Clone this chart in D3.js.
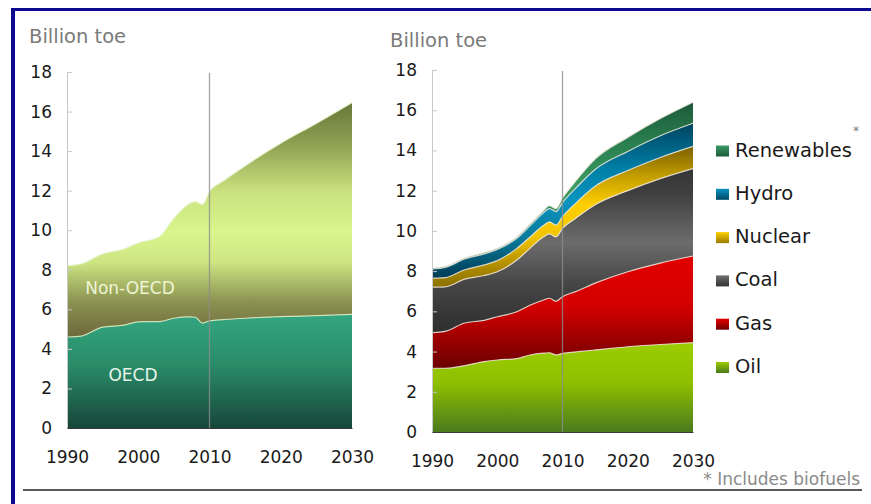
<!DOCTYPE html>
<html>
<head>
<meta charset="utf-8">
<script src="https://cdn.jsdelivr.net/npm/d3@7"></script>
<style>
  body { margin: 0; background: #fff; }
  svg { display: block; font-family: "DejaVu Sans", sans-serif; }
</style>
</head>
<body>
<svg id="chart" width="871" height="504"></svg>
<script>
// data (billion toe)
var years = [1990, 1992, 1995, 1998, 2000, 2003, 2005, 2007, 2008, 2009, 2010, 2012, 2015, 2020, 2025, 2030];

var oecd    = [4.6, 4.65, 5.1, 5.2, 5.37, 5.38, 5.55, 5.62, 5.6, 5.3, 5.42, 5.48, 5.55, 5.63, 5.68, 5.75];
var nonOecd = [3.6, 3.65, 3.7, 3.85, 3.98, 4.3, 5.05, 5.68, 5.85, 6.0, 6.53, 7.02, 7.7, 8.77, 9.72, 10.7];

var oil        = [3.17, 3.17, 3.3, 3.5, 3.58, 3.65, 3.83, 3.92, 3.94, 3.83, 3.91, 3.98, 4.08, 4.24, 4.35, 4.44];
var gas        = [1.77, 1.83, 2.12, 2.05, 2.15, 2.33, 2.47, 2.63, 2.71, 2.67, 2.82, 3.0, 3.32, 3.73, 4.05, 4.31];
var coal       = [2.26, 2.22, 2.18, 2.23, 2.24, 2.57, 2.83, 3.13, 3.2, 3.2, 3.4, 3.64, 3.9, 4.03, 4.2, 4.35];
var nuclear    = [0.45, 0.46, 0.47, 0.53, 0.55, 0.58, 0.56, 0.57, 0.6, 0.59, 0.58, 0.75, 0.92, 1.0, 1.05, 1.1];
var hydro      = [0.45, 0.5, 0.53, 0.55, 0.56, 0.5, 0.56, 0.63, 0.66, 0.67, 0.7, 0.74, 0.83, 0.95, 1.08, 1.15];
var renewables = [0.05, 0.05, 0.05, 0.06, 0.06, 0.07, 0.08, 0.1, 0.14, 0.15, 0.22, 0.36, 0.52, 0.7, 0.86, 1.05];

var yTicks = [0, 2, 4, 6, 8, 10, 12, 14, 16, 18];
var xTicks = [1990, 2000, 2010, 2020, 2030];
var fuelNames = ["Oil", "Gas", "Coal", "Nuclear", "Hydro", "Renewables"];
var regionNames = ["OECD", "Non-OECD"];

var svg = d3.select("#chart");
var defs = svg.append("defs");

// vertical gradients, one per layer
function gradient(id, stops) {
    var g = defs.append("linearGradient")
        .attr("id", id)
        .attr("x1", 0).attr("y1", 0).attr("x2", 0).attr("y2", 1);
    stops.forEach(function(s) {
        g.append("stop").attr("offset", s[0]).attr("stop-color", s[1]);
    });
}

gradient("g-OECD", [[0, "#33a680"], [0.45, "#2a8b68"], [1, "#17463a"]]);
gradient("g-Non-OECD", [[0, "#67773a"], [0.18, "#8fa152"], [0.38, "#c9e27f"], [0.55, "#d9f58c"], [0.68, "#cde683"], [0.85, "#8b9251"], [1, "#6c683c"]]);
gradient("g-Oil", [[0, "#9ccc00"], [0.45, "#8fc000"], [1, "#4a7a1c"]]);
gradient("g-Gas", [[0, "#e20000"], [0.45, "#d30000"], [0.75, "#9a0000"], [1, "#6a0000"]]);
gradient("g-Coal", [[0, "#353535"], [0.15, "#3f3f3f"], [0.45, "#6c6c6c"], [0.7, "#464646"], [1, "#2e2e2e"]]);
gradient("g-Nuclear", [[0, "#7a6000"], [0.2, "#c09a00"], [0.42, "#ffd000"], [0.65, "#f0c400"], [0.85, "#b08c00"], [1, "#8a7000"]]);
gradient("g-Hydro", [[0, "#004560"], [0.3, "#0080a8"], [0.5, "#0a94c0"], [0.75, "#0a7a9a"], [1, "#003a55"]]);
gradient("g-Renewables", [[0, "#1d5a3a"], [0.25, "#2a8050"], [0.5, "#3a9a60"], [1, "#2a7a55"]]);

// legend squares
var legendStops = {
    "Renewables": ["#3a9a66", "#1d5a3a"],
    "Hydro": ["#0a94c0", "#004a66"],
    "Nuclear": ["#ffd000", "#9a7a00"],
    "Coal": ["#707070", "#333333"],
    "Gas": ["#e60000", "#700000"],
    "Oil": ["#9ccc00", "#4a7a1c"]
};
Object.keys(legendStops).forEach(function(k) {
    gradient("lg-" + k, [[0, legendStops[k][0]], [1, legendStops[k][1]]]);
});

function panel(rows, keys, x, y, strokeColor) {
    var stack = d3.stack().keys(keys)(rows);

    var area = d3.area()
        .curve(d3.curveMonotoneX)
        .x(function(d) { return x(d.data.year); })
        .y0(function(d) { return y(d[0]); })
        .y1(function(d) { return y(d[1]); });

    var line = d3.line()
        .curve(d3.curveMonotoneX)
        .x(function(d) { return x(d.data.year); })
        .y(function(d) { return y(d[1]); });

    svg.append("g").selectAll("path")
        .data(stack)
        .enter()
        .append("path")
        .attr("d", area)
        .style("fill", function(d) { return "url(#g-" + d.key + ")"; });

    svg.append("g").selectAll("path")
        .data(stack)
        .enter()
        .append("path")
        .attr("d", line)
        .style("fill", "none")
        .style("stroke", strokeColor)
        .style("stroke-opacity", 0.8)
        .style("stroke-width", "1.2px");

    // y axis, ticks pointing inward
    var ya = svg.append("g")
        .attr("transform", "translate(" + x.range()[0] + ",0)")
        .call(d3.axisLeft(y).tickValues(yTicks).tickSize(-5).tickPadding(15));
    ya.select(".domain").attr("stroke", "#c8c8c8");
    ya.selectAll(".tick line").attr("stroke", "#c8c8c8");
    ya.selectAll("text")
        .attr("fill", "#1a1a1a")
        .style("font-size", "17px")
        .style("font-family", "DejaVu Sans, sans-serif");

    var xa = svg.append("g")
        .attr("transform", "translate(0," + y(0) + ")")
        .call(d3.axisBottom(x).tickValues(xTicks).tickFormat(d3.format("d")).tickSize(0).tickPadding(23));
    xa.select(".domain").attr("stroke", "#3a3a3a").attr("stroke-width", 1);
    xa.selectAll("text")
        .attr("fill", "#1a1a1a")
        .style("font-size", "17px")
        .style("font-family", "DejaVu Sans, sans-serif");

    // 2010 marker
    svg.append("line")
        .attr("x1", x(2010)).attr("x2", x(2010))
        .attr("y1", y(18) + 1).attr("y2", y(0))
        .style("stroke", "#8c8c8c")
        .style("stroke-opacity", 0.8)
        .style("stroke-width", "1.3px");
}

// left panel: regions
var regionRows = years.map(function(yr, i) {
    return { year: yr, "OECD": oecd[i], "Non-OECD": nonOecd[i] };
});
var xL = d3.scaleLinear().domain([1990, 2030]).range([67, 352]);
var yL = d3.scaleLinear().domain([0, 18]).range([428, 72]);
panel(regionRows, regionNames, xL, yL, "#e4f2c8");

svg.append("text").attr("x", 130).attr("y", 294)
    .attr("text-anchor", "middle")
    .style("font-size", "17px").style("fill", "#eef4d4")
    .text("Non-OECD");
svg.append("text").attr("x", 133).attr("y", 381)
    .attr("text-anchor", "middle")
    .style("font-size", "17px").style("fill", "#e6f4ea")
    .text("OECD");

// right panel: fuels
var fuelSeries = [oil, gas, coal, nuclear, hydro, renewables];
var fuelRows = years.map(function(yr, i) {
    var r = { year: yr };
    fuelNames.forEach(function(k, j) { r[k] = fuelSeries[j][i]; });
    return r;
});
var xR = d3.scaleLinear().domain([1990, 2030]).range([432, 693]);
var yR = d3.scaleLinear().domain([0, 18]).range([432, 70]);
panel(fuelRows, fuelNames, xR, yR, "#f2ebe0");

// unit labels
svg.append("text").attr("x", 29).attr("y", 43)
    .style("font-size", "19.5px").style("fill", "#7a7a7a")
    .text("Billion toe");
svg.append("text").attr("x", 390).attr("y", 47)
    .style("font-size", "19.5px").style("fill", "#7a7a7a")
    .text("Billion toe");

// legend, top to bottom
var legendOrder = fuelNames.slice().reverse();
var lg = svg.append("g");
legendOrder.forEach(function(k, i) {
    var by = 156.5 + i * 43.3;
    lg.append("rect")
        .attr("x", 716).attr("y", by - 11)
        .attr("width", 13).attr("height", 11)
        .style("fill", "url(#lg-" + k + ")");
    lg.append("text")
        .attr("x", 735).attr("y", by)
        .style("font-size", "19.5px").style("fill", "#1a1a1a")
        .text(k);
});
lg.append("text").attr("x", 853).attr("y", 135)
    .style("font-size", "12px").style("fill", "#777")
    .text("*");

svg.append("text").attr("x", 860).attr("y", 485)
    .attr("text-anchor", "end")
    .style("font-size", "17px").style("fill", "#8a8a8a")
    .text("* Includes biofuels");

// frame
svg.append("line")
    .attr("x1", 23).attr("x2", 862).attr("y1", 490).attr("y2", 490)
    .style("stroke", "#222").style("stroke-width", "1.5px");
svg.append("rect").attr("x", 11).attr("y", 8).attr("width", 860).attr("height", 3).style("fill", "#0a0a8c");
svg.append("rect").attr("x", 11).attr("y", 8).attr("width", 4).attr("height", 496).style("fill", "#0a0a8c");
</script>
</body>
</html>
